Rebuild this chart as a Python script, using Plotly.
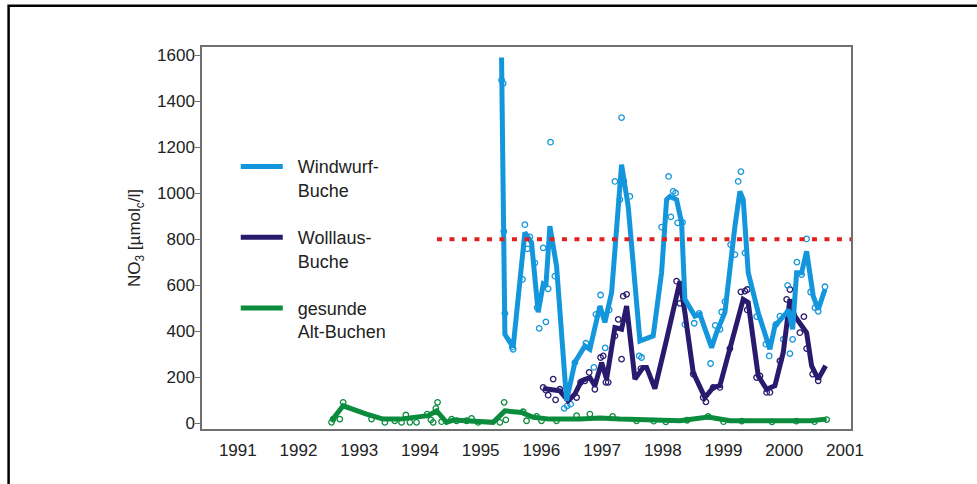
import plotly.graph_objects as go

# ---------------- data (years as decimal, NO3 in µmol_c/l) ----------------
wind_line_x = [1995.344, 1995.399, 1995.535, 1995.728, 1995.838, 1995.947, 1996.030, 1996.074,
               1996.140, 1996.250, 1996.415, 1996.552, 1996.717, 1996.799, 1996.964, 1997.046,
               1997.157, 1997.321, 1997.430, 1997.623, 1997.842, 1997.980, 1998.063, 1998.117,
               1998.227, 1998.310, 1998.364, 1998.529, 1998.611, 1998.804, 1998.886, 1999.023,
               1999.188, 1999.270, 1999.325, 1999.407, 1999.572, 1999.764, 1999.847, 1999.957,
               2000.040, 2000.066, 2000.138, 2000.204, 2000.287, 2000.369, 2000.478, 2000.560,
               2000.671]
wind_line_y = [1590, 386, 330, 829, 785, 482, 603, 594,
               856, 683, 97, 265, 335, 321, 509, 438,
               568, 1124, 943, 357, 379, 655, 972, 986,
               972, 871, 538, 465, 473, 328, 394, 481,
               856, 1008, 972, 654, 480, 321, 422, 451,
               480, 494, 408, 654, 654, 747, 552, 494,
               581]

woll_line_x = [1996.030, 1996.168, 1996.305, 1996.441, 1996.552, 1996.662, 1996.799, 1996.881,
               1996.992, 1997.074, 1997.211, 1997.321, 1997.404, 1997.541, 1997.677, 1997.733,
               1997.870, 1998.063, 1998.282, 1998.364, 1998.501, 1998.694, 1998.830, 1998.940,
               1999.105, 1999.324, 1999.407, 1999.572, 1999.710, 1999.847, 1999.984, 2000.094,
               2000.176, 2000.258, 2000.369, 2000.451, 2000.560, 2000.682]
woll_line_y = [150, 147, 140, 97, 126, 184, 198, 162,
               263, 191, 415, 408, 509, 191, 242, 242,
               150, 364, 617, 480, 220, 111, 155, 162,
               321, 538, 524, 205, 147, 162, 307, 538,
               465, 437, 393, 249, 191, 249]

ges_line_x = [1992.544, 1992.735, 1993.120, 1993.394, 1993.669, 1993.944, 1994.135, 1994.274,
              1994.438, 1994.547, 1994.767, 1994.932, 1995.206, 1995.399, 1995.674, 1995.865,
              1996.140, 1996.634, 1996.964, 1997.293, 1997.787, 1998.282, 1998.748, 1999.105,
              1999.600, 2000.094, 2000.423, 2000.698]
ges_line_y = [10, 75, 39, 17, 17, 25, 32, 53,
              3, 13, 9, 3, 3, 53, 46, 25,
              17, 17, 22, 17, 13, 10, 26, 10,
              10, 10, 10, 17]

wind_pts_x = [1995.344, 1995.371, 1995.382, 1995.399, 1995.535, 1995.520, 1995.728, 1995.690,
              1995.810, 1995.772, 1995.893, 1995.931, 1995.964, 1996.074, 1996.112, 1996.030,
              1996.151, 1996.222, 1996.376, 1996.425, 1996.481, 1996.552, 1996.733, 1996.865,
              1996.898, 1996.975, 1997.051, 1997.117, 1997.211, 1997.293, 1997.321, 1997.359,
              1997.458, 1997.611, 1997.650, 1997.980, 1998.095, 1998.133, 1998.171, 1998.211,
              1998.244, 1998.326, 1998.364, 1998.518, 1998.600, 1998.787, 1998.863, 1998.941,
              1998.969, 1999.023, 1999.117, 1999.188, 1999.242, 1999.287, 1999.353, 1999.545,
              1999.698, 1999.753, 1999.863, 1999.929, 1999.984, 2000.056, 2000.094, 2000.138,
              2000.209, 2000.287, 2000.369, 2000.435, 2000.506, 2000.560, 2000.671]
wind_pts_y = [1492, 1478, 834, 477, 321, 330, 863, 625,
              810, 758, 697, 502, 412, 440, 584, 762,
              1222, 639, 64, 75, 82, 263, 347, 242,
              473, 557, 327, 492, 1051, 972, 1329, 1051,
              986, 292, 285, 852, 1073, 897, 1008, 1001,
              871, 873, 429, 434, 477, 259, 425, 408,
              483, 528, 776, 733, 1051, 1094, 740, 463,
              343, 292, 429, 465, 364, 599, 302, 364,
              700, 646, 801, 570, 502, 486, 593]

woll_pts_x = [1996.030, 1996.074, 1996.112, 1996.195, 1996.234, 1996.305, 1996.580, 1996.646,
              1996.717, 1996.787, 1996.881, 1996.975, 1997.018, 1997.063, 1997.101, 1997.211,
              1997.266, 1997.321, 1997.348, 1997.404, 1997.639, 1998.227, 1998.282, 1998.501,
              1998.666, 1998.710, 1998.830, 1998.940, 1999.105, 1999.287, 1999.353, 1999.391,
              1999.391, 1999.545, 1999.600, 1999.710, 1999.764, 1999.929, 2000.040, 2000.094,
              2000.258, 2000.324, 2000.369, 2000.468, 2000.560]
woll_pts_y = [155, 143, 121, 191, 101, 147, 111, 177,
              184, 220, 147, 285, 292, 177, 177, 379,
              451, 278, 552, 560, 237, 617, 521, 213,
              111, 92, 155, 155, 324, 571, 574, 581,
              492, 198, 205, 133, 133, 270, 538, 581,
              393, 463, 324, 213, 184]

ges_pts_x = [1992.544, 1992.570, 1992.680, 1992.735, 1993.203, 1993.422, 1993.586, 1993.697,
             1993.768, 1993.834, 1993.944, 1994.119, 1994.180, 1994.218, 1994.262, 1994.290,
             1994.356, 1994.521, 1994.603, 1994.767, 1994.850, 1994.959, 1995.316, 1995.387,
             1995.415, 1995.700, 1995.756, 1995.921, 1996.003, 1996.250, 1996.580, 1996.799,
             1997.173, 1997.568, 1997.850, 1998.050, 1998.400, 1998.748, 1999.000, 1999.300,
             1999.800, 2000.200, 2000.500, 2000.700]
ges_pts_y = [3, 17, 17, 90, 17, 3, 10, 3,
             35, 3, 3, 39, 14, 3, 64, 90,
             6, 17, 10, 10, 20, 3, 3, 90,
             14, 49, 10, 29, 10, 10, 32, 39,
             29, 10, 8, 5, 12, 29, 6, 8,
             5, 8, 6, 15]

threshold_x = [1994.28, 2001.1]
threshold_y = [800, 800]

year_ticks = list(range(1991, 2002))
y_ticks = list(range(0, 1601, 200))

legend_names = ["Windwurf-<br>Buche", "Wolllaus-<br>Buche", "gesunde<br>Alt-Buchen"]

# ---------------- styling ----------------
C_WIND = "#1496dc"
C_WOLL = "#2a1a6e"
C_GES = "#0a8c3c"
C_RED = "#e2201e"
FONT = "Liberation Sans, Arial, sans-serif"
PAD = "\u00a0\u00a0"

def padded(name):
    return "<br>".join(PAD + part for part in name.split("<br>"))

fig = go.Figure()

def pts(x, y, c):
    fig.add_trace(go.Scatter(x=x, y=y, mode="markers", showlegend=False, hoverinfo="skip",
                             marker=dict(symbol="circle-open", size=5.5, color=c,
                                         line=dict(width=1.3, color=c))))

pts(ges_pts_x, ges_pts_y, C_GES)
pts(woll_pts_x, woll_pts_y, C_WOLL)
pts(wind_pts_x, wind_pts_y, C_WIND)

fig.add_trace(go.Scatter(x=ges_line_x, y=ges_line_y, mode="lines", name=padded(legend_names[2]),
                         legendgroup="c", legendrank=3,
                         line=dict(color=C_GES, width=5)))
fig.add_trace(go.Scatter(x=woll_line_x, y=woll_line_y, mode="lines", name=padded(legend_names[1]),
                         legendgroup="b", legendrank=2,
                         line=dict(color=C_WOLL, width=5)))
fig.add_trace(go.Scatter(x=wind_line_x, y=wind_line_y, mode="lines", name=padded(legend_names[0]),
                         legendgroup="a", legendrank=1,
                         line=dict(color=C_WIND, width=5)))
fig.add_trace(go.Scatter(x=threshold_x, y=threshold_y, mode="lines", showlegend=False,
                         hoverinfo="skip", line=dict(color=C_RED, width=4, dash="5px,7.5px")))

fig.update_layout(
    width=977, height=484,
    margin=dict(l=202, r=126, t=47, b=55),
    paper_bgcolor="white", plot_bgcolor="white",
    font=dict(family=FONT, size=17, color="#222222"),
    showlegend=True,
    legend=dict(x=0.052, y=0.735, xanchor="left", yanchor="top",
                font=dict(family=FONT, size=18, color="#222222"),
                bgcolor="rgba(0,0,0,0)", borderwidth=0,
                valign="top", tracegroupgap=21, itemwidth=42,
                traceorder="grouped"),
    xaxis=dict(range=[1990.41, 2001.1], tickmode="array", tickvals=year_ticks,
               ticktext=[str(t) for t in year_ticks], showgrid=False, zeroline=False,
               showline=True, mirror=True, linecolor="#707070", linewidth=1.5,
               ticks="", ticklabelstandoff=5, tickfont=dict(size=17, color="#222222")),
    yaxis=dict(range=[-26, 1636], tickmode="array", tickvals=y_ticks, showgrid=False,
               zeroline=False, showline=True, mirror=True, linecolor="#707070", linewidth=1.5,
               ticks="outside", ticklen=5, tickwidth=1.2, tickcolor="#707070",
               ticklabelstandoff=-3,
               tickfont=dict(size=17, color="#222222"),
               title=dict(text="NO<sub>3</sub> [µmol<sub>c</sub>/l]", standoff=12,
                          font=dict(size=17, color="#222222"))),
    shapes=[dict(type="rect", xref="paper", yref="paper",
                 x0=-0.298, x1=1.3, y0=-0.4, y1=1.108,
                 line=dict(color="black", width=2.5), fillcolor="rgba(0,0,0,0)", layer="below")],
)

fig.write_html("out.html", config={"displayModeBar": False},
               post_script="document.body.style.margin='0px';")
